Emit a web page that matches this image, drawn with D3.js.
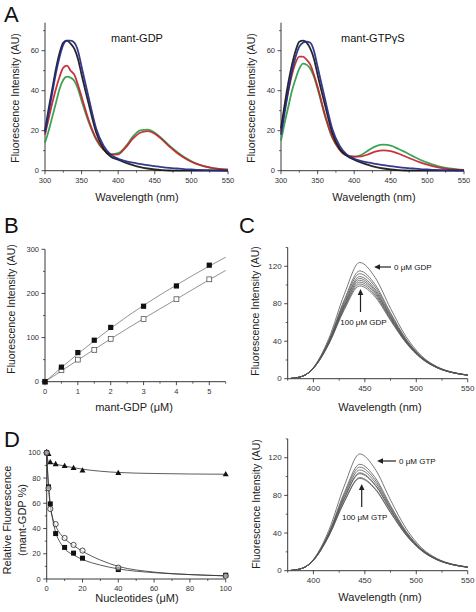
<!DOCTYPE html>
<html><head><meta charset="utf-8">
<script src="https://cdn.jsdelivr.net/npm/d3@7"></script>
<style>body{margin:0;background:#fff}svg{display:block;font-family:"Liberation Sans",Arial,sans-serif}</style>
</head><body><svg id="c" width="476" height="612"></svg>
<script>
// ---------- Panel A data ----------
const wlA = [300,305,310,315,320,325,330,335,340,345,350,360,370,380,390,400,410,420,430,440,450,460,470,480,490,500,510,520,530,540,550];
const gdpBlack = [20,31,41,51,59,64,65,63.5,61,56,48,33,19,11,7,5.5,4,2.8,1.8,1.1,0.6,0.3,0.1,0,0,0,0,0,0,0,0];
const gdpBlue  = [19,29,39,49,57,63,65,65,64,60,52,36,21,12.5,8,6,4.8,4,3.4,2.8,2.3,1.8,1.4,1.1,0.8,0.6,0.4,0.3,0.2,0.1,0];
const gdpRed   = [18,26,34,41,47,51.5,52.5,50,48,43,37,25,16,10.5,8,8.2,11.5,16,19,19.8,18.5,15.5,12,9,6.5,4.5,3,2,1.2,0.8,0.5];
const gdpGreen = [14,20,27,34,41,45.5,47,46.5,45,41,35,24,15.5,10.5,8.3,8.8,12,17,20.2,20.5,19,16,12.5,9.5,6.8,4.7,3.1,2,1.3,0.8,0.5];
const gtpBlack = [21,33,44,53,60,64.5,65,64,61,56,48,33,19,11,7.5,5.5,4,2.8,1.8,1.1,0.6,0.3,0.1,0,0,0,0,0,0,0,0];
const gtpBlue  = [18,29,40,50,57,62,64,64.5,64,60,52,36,21,12.5,8,6,4.8,4,3.4,2.8,2.3,1.8,1.4,1.1,0.8,0.6,0.4,0.3,0.2,0.1,0];
const gtpRed   = [20,31,40,48,54,57,57,55.5,53,48,42,28,17,10.5,7.5,7,7.2,8.3,9.7,10.2,9.8,8.6,7.1,5.6,4.2,3,2,1.3,0.8,0.5,0.3];
const gtpGreen = [15,24,32,40,46,51,53.5,53,51,47,41,27.5,16.5,10.5,7.8,7,8,10.3,12.3,13,12.5,11,9.2,7.3,5.5,4,2.8,1.8,1.1,0.7,0.4];
const seriesColorsA = ["#2e9b46","#c4232b","#151515","#232a82"]; // green, red, black, blue

// ---------- Panel B data ----------
const concB = [0,0.5,1,1.5,2,3,4,5];
const bFilled = [0,33,66,94,123,171,217,264];
const bOpen   = [0,26,50,72,97,142,187,232];
const fitXB = [0,1,2,3,4,5,5.5];
const fitFilledB = [0,63,121,173,219,262,282];
const fitOpenB   = [0,49,97,143,187,231,252];

// ---------- Panel C data ----------
const wlC = [378,390,400,415,430,445,460,475,490,505,520,535,550];
const cGDP = [
  [0.3,3,12,43,90,124,108,75,45,24.5,13,7,4],
  [0.3,2.96,11.65,40.8,84.1,115,100.5,70.4,42.5,23.4,12.5,6.8,3.9],
  [0.3,2.94,11.5,40.1,82.2,112,98.1,68.8,41.7,23.1,12.4,6.7,3.9],
  [0.3,2.93,11.4,39.4,80.2,109,95.6,67.3,40.9,22.7,12.2,6.7,3.9],
  [0.3,2.92,11.3,38.9,78.9,107,93.9,66.3,40.4,22.5,12.1,6.6,3.8],
  [0.3,2.91,11.3,38.4,77.6,105,92.3,65.3,39.8,22.3,12.0,6.6,3.8],
  [0.3,2.9,11.2,37.9,76.3,103,90.7,64.2,39.3,22.0,11.9,6.5,3.8],
  [0.3,2.89,11.1,37.4,75,101,89,63.2,38.8,21.8,11.8,6.5,3.8],
  [0.3,2.88,11.0,36.9,73.6,99,87.3,62.1,38.2,21.5,11.7,6.4,3.6]
];
const cGTP = [
  [0.3,3,12,43,90,124,108,75,45,24.5,13,7,4],
  [0.3,2.95,11.6,40.3,82.8,113,98.9,69.3,42.0,23.2,12.4,6.8,3.9],
  [0.3,2.93,11.5,39.6,80.8,110,96.4,67.8,41.2,22.8,12.3,6.7,3.9],
  [0.3,2.92,11.3,38.9,78.9,107,93.9,66.3,40.4,22.5,12.1,6.6,3.8],
  [0.3,2.9,11.2,38.2,77,104,91.5,64.7,39.6,22.1,12.0,6.5,3.8],
  [0.3,2.9,11.2,37.9,76.3,103,90.7,64.2,39.3,22.0,11.9,6.5,3.8],
  [0.3,2.88,11.0,36.9,73.6,99,87.3,62.1,38.2,21.5,11.7,6.4,3.6],
  [0.3,2.87,11.0,36.7,73,98,86.5,61.6,37.9,21.4,11.6,6.4,3.6]
];

// ---------- Panel D data ----------
const concD = [0,1,2,5,10,15,20,40,100];
const dTri    = [100,99,92.5,91,89.5,88,86,84,83];
const dSquare = [100,73,59.5,36,25,20.5,16.5,7.5,3];
const dCircle = [100,72,55.5,43.5,32.5,27,22.5,9,2.5];
const fitXD = [0,0.5,1,2,3,5,7.5,10,15,20,30,40,60,80,100];
const fitTriD    = [100,95,92.5,92,91.6,91,90.2,89.5,88.2,87,85.4,84.4,83.6,83.2,83];
const fitSquareD = [100,86,75,60,50,37,29,24,19,15.5,11,8,5,3.5,2.5];
const fitCircleD = [100,84,73,57,50,42,36,32,26.5,22,15,10,5.5,3.5,2.5];

const svg = d3.select("#c");
const tickCol = "#333";

function axes(x, y, o) {
  const g = svg.append("g");
  const [x0, x1] = x.range(), [y0, y1] = y.range();
  g.append("line").attr("x1", x0).attr("x2", x1).attr("y1", y0).attr("y2", y0).attr("stroke", "#222").attr("stroke-width", 0.9);
  g.append("line").attr("x1", x0).attr("x2", x0).attr("y1", y0).attr("y2", y1).attr("stroke", "#222").attr("stroke-width", 0.9);
  o.xMinor.forEach(v => g.append("line").attr("x1", x(v)).attr("x2", x(v)).attr("y1", y0).attr("y2", y0 + 2).attr("stroke", "#222").attr("stroke-width", 0.7));
  o.yMinor.forEach(v => g.append("line").attr("y1", y(v)).attr("y2", y(v)).attr("x1", x0).attr("x2", x0 - 2).attr("stroke", "#222").attr("stroke-width", 0.7));
  o.xTicks.forEach(v => {
    g.append("line").attr("x1", x(v)).attr("x2", x(v)).attr("y1", y0).attr("y2", y0 + 3.5).attr("stroke", "#222").attr("stroke-width", 0.8);
    g.append("text").attr("x", x(v)).attr("y", y0 + 12).attr("text-anchor", "middle").attr("font-size", o.fs || 7.5).attr("fill", tickCol).text(v);
  });
  o.yTicks.forEach(v => {
    g.append("line").attr("y1", y(v)).attr("y2", y(v)).attr("x1", x0).attr("x2", x0 - 3.5).attr("stroke", "#222").attr("stroke-width", 0.8);
    g.append("text").attr("x", x0 - 6).attr("y", y(v) + 2.7).attr("text-anchor", "end").attr("font-size", o.fs || 7.5).attr("fill", tickCol).text(v);
  });
}
function ylabel(lines, xs, cy, fs) {
  lines.forEach((t, i) => svg.append("text").attr("transform", `translate(${xs[i]},${cy}) rotate(-90)`).attr("text-anchor", "middle").attr("font-size", fs).attr("fill", "#222").text(t));
}
function xlabel(t, cx, by, fs) {
  svg.append("text").attr("x", cx).attr("y", by).attr("text-anchor", "middle").attr("font-size", fs).attr("fill", "#222").text(t);
}
function letter(t, x, y) {
  svg.append("text").attr("x", x).attr("y", y).attr("font-size", 22).attr("fill", "#111").text(t);
}

// ---------- Panel A ----------
function panelA(ox, sets, title, titleX) {
  const x = d3.scaleLinear().domain([300, 550]).range([ox, ox + 183]);
  const y = d3.scaleLinear().domain([0, 74]).range([170.7, 22.7]);
  axes(x, y, { xTicks: [300,350,400,450,500,550], xMinor: [325,375,425,475,525],
               yTicks: [0,20,40,60], yMinor: [10,30,50,70], fs: 7.5 });
  const line = d3.line().x((d, i) => x(wlA[i])).y(d => y(d)).curve(d3.curveMonotoneX);
  sets.forEach((s, k) => svg.append("path").datum(s).attr("d", line).attr("fill", "none")
    .attr("stroke", seriesColorsA[k]).attr("stroke-width", 1.8).attr("stroke-opacity", 0.92));
  svg.append("text").attr("x", titleX).attr("y", 42).attr("font-size", 11).attr("fill", "#111").text(title);
}
panelA(45, [gdpGreen, gdpRed, gdpBlack, gdpBlue], "mant-GDP", 111);
panelA(281, [gtpGreen, gtpRed, gtpBlack, gtpBlue], "mant-GTPγS", 341);
letter("A", 4, 22);
ylabel(["Fluorescence Intensity (AU)"], [18.5], 98, 10.5);
ylabel(["Fluorescence Intensity (AU)"], [254.5], 98, 10.5);
xlabel("Wavelength (nm)", 137, 201, 11);
xlabel("Wavelength (nm)", 374, 201, 11);

// ---------- Panel B ----------
(function () {
  const x = d3.scaleLinear().domain([0, 5.5]).range([45, 225.7]);
  const y = d3.scaleLinear().domain([0, 300]).range([381.7, 249.3]);
  axes(x, y, { xTicks: [0,1,2,3,4,5], xMinor: [0.5,1.5,2.5,3.5,4.5,5.5],
               yTicks: [0,100,200,300], yMinor: [50,150,250], fs: 7.5 });
  const line = d3.line().x((d, i) => x(fitXB[i])).y(d => y(d)).curve(d3.curveMonotoneX);
  [fitFilledB, fitOpenB].forEach(f => svg.append("path").datum(f).attr("d", line).attr("fill", "none").attr("stroke", "#777").attr("stroke-width", 0.8));
  bOpen.forEach((v, i) => svg.append("rect").attr("x", x(concB[i]) - 2.4).attr("y", y(v) - 2.4).attr("width", 4.8).attr("height", 4.8).attr("fill", "#fff").attr("stroke", "#555").attr("stroke-width", 0.8));
  bFilled.forEach((v, i) => svg.append("rect").attr("x", x(concB[i]) - 2.6).attr("y", y(v) - 2.6).attr("width", 5.2).attr("height", 5.2).attr("fill", "#111"));
})();
letter("B", 4, 233);
ylabel(["Fluorescence Intensity (AU)"], [14.5], 309, 10.5);
xlabel("mant-GDP (μM)", 134, 411, 11);

// ---------- Panel C ----------
function panelC(y0, y1, curves, labTop, labBot, a) {
  const x = d3.scaleLinear().domain([375, 550]).range([287.7, 467.7]);
  const y = d3.scaleLinear().domain([0, 140]).range([y0, y1]);
  axes(x, y, { xTicks: [400,450,500,550], xMinor: [375,425,475,525],
               yTicks: [0,40,80,120], yMinor: [20,60,100,140], fs: 8 });
  const line = d3.line().x((d, i) => x(wlC[i])).y(d => y(d)).curve(d3.curveMonotoneX);
  curves.forEach(c => svg.append("path").datum(c).attr("d", line).attr("fill", "none").attr("stroke", "#555").attr("stroke-width", 0.8));
  // arrows
  svg.append("line").attr("x1", a.hx1).attr("x2", a.hx2 + 5).attr("y1", a.hy).attr("y2", a.hy).attr("stroke", "#222").attr("stroke-width", 1.2);
  svg.append("path").attr("d", `M${a.hx2},${a.hy} l6,-2.8 l0,5.6 z`).attr("fill", "#222");
  svg.append("text").attr("x", a.hx1 + 3).attr("y", a.hy + 3).attr("font-size", 8).attr("fill", "#111").text(labTop);
  svg.append("line").attr("x1", a.vx).attr("x2", a.vx).attr("y1", a.vy1).attr("y2", a.vy2 + 5).attr("stroke", "#222").attr("stroke-width", 1.2);
  svg.append("path").attr("d", `M${a.vx},${a.vy2} l-2.8,6 l5.6,0 z`).attr("fill", "#222");
  svg.append("text").attr("x", a.vx + 3).attr("y", a.ty).attr("text-anchor", "middle").attr("font-size", 8).attr("fill", "#111").text(labBot);
}
panelC(378.7, 247.5, cGDP, "0 μM GDP", "100 μM GDP", { hx1: 391, hx2: 374, hy: 267, vx: 360.5, vy1: 312, vy2: 289, ty: 324.5 });
panelC(570.7, 438.9, cGTP, "0 μM GTP", "100 μM GTP", { hx1: 396, hx2: 377, hy: 461, vx: 361.7, vy1: 507, vy2: 484, ty: 519.5 });
letter("C", 239, 233);
ylabel(["Fluorescence Intensity (AU)"], [259], 311, 10.5);
ylabel(["Fluorescence Intensity (AU)"], [259.5], 504, 10.5);
xlabel("Wavelength (nm)", 380, 411, 11);
xlabel("Wavelength (nm)", 380, 601, 11);

// ---------- Panel D ----------
(function () {
  const x = d3.scaleLinear().domain([0, 100]).range([46.7, 225.7]);
  const y = d3.scaleLinear().domain([0, 103]).range([579, 449]);
  axes(x, y, { xTicks: [0,20,40,60,80,100], xMinor: [10,30,50,70,90],
               yTicks: [0,20,40,60,80,100], yMinor: [10,30,50,70,90], fs: 7.5 });
  const line = d3.line().x((d, i) => x(fitXD[i])).y(d => y(d)).curve(d3.curveMonotoneX);
  [fitTriD, fitSquareD, fitCircleD].forEach(f => svg.append("path").datum(f).attr("d", line).attr("fill", "none").attr("stroke", "#333").attr("stroke-width", 0.8));
  dTri.forEach((v, i) => svg.append("path").attr("d", `M${x(concD[i])},${y(v) - 3.3} l3,5.3 l-6,0 z`).attr("fill", "#111"));
  dSquare.forEach((v, i) => svg.append("rect").attr("x", x(concD[i]) - 2.5).attr("y", y(v) - 2.5).attr("width", 5).attr("height", 5).attr("fill", "#111"));
  dCircle.forEach((v, i) => svg.append("circle").attr("cx", x(concD[i])).attr("cy", y(v)).attr("r", 2.6).attr("fill", "#fff").attr("fill-opacity", 0.6).attr("stroke", "#222").attr("stroke-width", 0.8));
})();
letter("D", 4, 447);
ylabel(["Relative Fluorescence", "(mant-GDP %)"], [11, 26], 520, 11);
xlabel("Nucleotides (μM)", 137, 602, 11);
</script></body></html>
